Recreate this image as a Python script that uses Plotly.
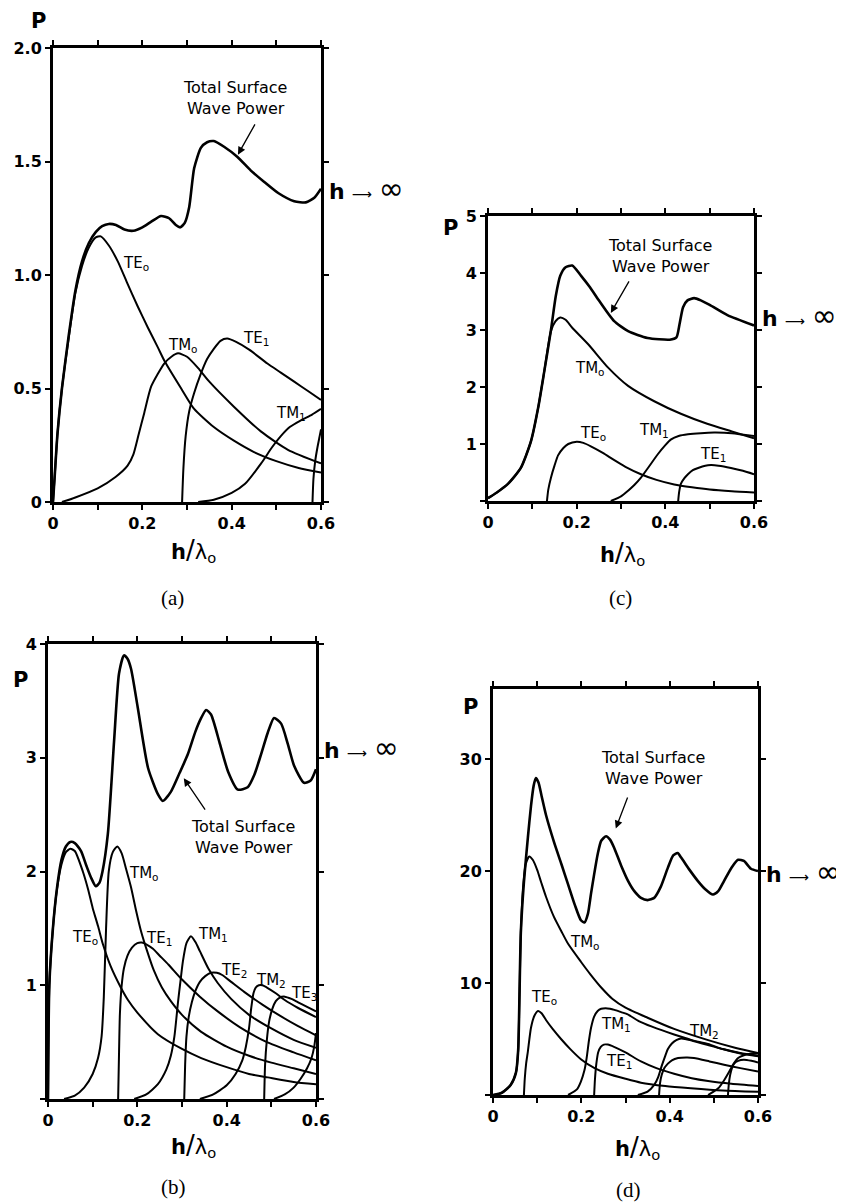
import plotly.graph_objects as go

# page is shown with an 8px body margin: build the figure 8px smaller and shift reference pixels by 8
OFF = 8
FW, FH = 844 - OFF, 1204 - OFF

# ---------------- Panel (a) ----------------
a_total_x = [0, 0.004, 0.01, 0.02, 0.035, 0.05, 0.065, 0.08, 0.096, 0.11, 0.125, 0.141, 0.16, 0.18, 0.2, 0.22, 0.242,
             0.26, 0.275, 0.285, 0.295, 0.305, 0.316, 0.331, 0.345, 0.36, 0.383, 0.413, 0.443, 0.473, 0.505, 0.54, 0.566,
             0.585, 0.6]
a_total_y = [0, 0.12, 0.3, 0.5, 0.73, 0.93, 1.06, 1.14, 1.19, 1.215, 1.225, 1.22, 1.2, 1.195, 1.21, 1.235, 1.26,
             1.25, 1.22, 1.21, 1.23, 1.3, 1.47, 1.56, 1.585, 1.59, 1.565, 1.52, 1.46, 1.41, 1.36, 1.325, 1.32,
             1.34, 1.38]
a_TE0_x = [0, 0.004, 0.01, 0.02, 0.035, 0.05, 0.065, 0.08, 0.095, 0.107, 0.125, 0.145, 0.165, 0.19, 0.212, 0.235,
           0.25, 0.287, 0.316, 0.36, 0.405, 0.45, 0.5, 0.55, 0.6]
a_TE0_y = [0, 0.12, 0.3, 0.5, 0.72, 0.92, 1.04, 1.12, 1.165, 1.17, 1.13, 1.06, 0.97, 0.86, 0.77, 0.68, 0.62,
           0.5, 0.41, 0.33, 0.27, 0.22, 0.18, 0.15, 0.13]
a_TM0_x = [0.02, 0.05, 0.1, 0.14, 0.167, 0.18, 0.192, 0.204, 0.22, 0.249, 0.265, 0.28, 0.3, 0.325, 0.35, 0.405,
           0.466, 0.526, 0.6]
a_TM0_y = [0, 0.02, 0.06, 0.11, 0.16, 0.21, 0.3, 0.39, 0.51, 0.61, 0.64, 0.655, 0.64, 0.59, 0.53, 0.42,
           0.31, 0.23, 0.17]
a_TE1_x = [0.289, 0.292, 0.297, 0.305, 0.316, 0.33, 0.345, 0.36, 0.375, 0.39, 0.41, 0.44, 0.48, 0.51, 0.54, 0.57, 0.6]
a_TE1_y = [0, 0.15, 0.29, 0.4, 0.48, 0.56, 0.63, 0.675, 0.71, 0.72, 0.705, 0.67, 0.61, 0.57, 0.53, 0.49, 0.45]
a_TM1_x = [0.325, 0.36, 0.4, 0.43, 0.466, 0.49, 0.51, 0.53, 0.555, 0.58, 0.6]
a_TM1_y = [0, 0.01, 0.04, 0.08, 0.17, 0.24, 0.29, 0.33, 0.36, 0.385, 0.41]
a_TE2_x = [0.581, 0.583, 0.587, 0.592, 0.597, 0.6]
a_TE2_y = [0, 0.1, 0.18, 0.24, 0.29, 0.32]

# ---------------- Panel (c) ----------------
c_total_x = [0, 0.02, 0.045, 0.074, 0.097, 0.113, 0.126, 0.142, 0.153, 0.163, 0.175, 0.19, 0.21, 0.23, 0.25,
             0.284, 0.316, 0.36, 0.41, 0.425, 0.432, 0.44, 0.45, 0.465, 0.48, 0.5, 0.54, 0.6]
c_total_y = [0.05, 0.15, 0.3, 0.58, 1.05, 1.63, 2.23, 3.0, 3.6, 3.95, 4.1, 4.13, 3.95, 3.75, 3.52,
             3.16, 2.98, 2.86, 2.83, 2.87, 3.1, 3.4, 3.52, 3.56, 3.52, 3.44, 3.26, 3.08]
c_TM0_x = [0, 0.02, 0.045, 0.074, 0.097, 0.113, 0.126, 0.142, 0.152, 0.163, 0.175, 0.19, 0.226, 0.271, 0.316,
           0.375, 0.435, 0.496, 0.55, 0.6]
c_TM0_y = [0.05, 0.15, 0.3, 0.58, 1.05, 1.63, 2.23, 2.98, 3.15, 3.22, 3.18, 3.04, 2.75, 2.34, 2.02,
           1.75, 1.53, 1.35, 1.22, 1.1]
c_TE0_x = [0.133, 0.136, 0.142, 0.15, 0.158, 0.17, 0.181, 0.2, 0.215, 0.232, 0.26, 0.284, 0.31, 0.345, 0.38,
           0.42, 0.46, 0.5, 0.55, 0.6]
c_TE0_y = [0, 0.2, 0.41, 0.62, 0.8, 0.93, 1.0, 1.04, 1.02, 0.96, 0.84, 0.72, 0.6, 0.47, 0.37,
           0.29, 0.24, 0.2, 0.17, 0.15]
c_TM1_x = [0.277, 0.3, 0.316, 0.33, 0.345, 0.36, 0.383, 0.4, 0.413, 0.43, 0.451, 0.48, 0.51, 0.55, 0.6]
c_TM1_y = [0, 0.08, 0.18, 0.28, 0.41, 0.57, 0.82, 0.98, 1.08, 1.14, 1.17, 1.19, 1.2, 1.19, 1.14]
c_TE1_x = [0.429, 0.431, 0.435, 0.443, 0.451, 0.462, 0.474, 0.49, 0.503, 0.52, 0.548, 0.575, 0.6]
c_TE1_y = [0, 0.15, 0.3, 0.4, 0.47, 0.54, 0.58, 0.62, 0.63, 0.62, 0.58, 0.53, 0.47]

# ---------------- Panel (b) ----------------
b_total_x = [0, 0.003, 0.011, 0.02, 0.03, 0.04, 0.05, 0.06, 0.074, 0.086, 0.096, 0.107, 0.115, 0.122, 0.134,
             0.148, 0.159, 0.17, 0.178, 0.186, 0.201, 0.224, 0.246, 0.257, 0.275, 0.295, 0.313, 0.33, 0.343,
             0.354, 0.365, 0.385, 0.403, 0.425, 0.447, 0.462, 0.477, 0.492, 0.506, 0.522, 0.537, 0.551, 0.573,
             0.588, 0.6]
b_total_y = [0, 1.0, 1.5, 1.85, 2.1, 2.22, 2.26, 2.25, 2.18, 2.05, 1.95, 1.87, 1.9, 2.0, 2.33,
             3.15, 3.74, 3.9, 3.87, 3.78, 3.44, 2.91, 2.68, 2.62, 2.7, 2.87, 3.03, 3.23, 3.35,
             3.42, 3.38, 3.12, 2.88, 2.72, 2.74, 2.85, 3.03, 3.22, 3.35, 3.3, 3.12, 2.93, 2.78,
             2.8, 2.9]
b_TE0_x = [0, 0.003, 0.011, 0.02, 0.03, 0.04, 0.05, 0.06, 0.078, 0.09, 0.1, 0.112, 0.123, 0.14, 0.163, 0.179,
           0.2, 0.246, 0.3, 0.343, 0.4, 0.45, 0.492, 0.55, 0.6]
b_TE0_y = [0, 1.0, 1.5, 1.84, 2.06, 2.17, 2.2, 2.18, 2.0, 1.84, 1.68, 1.52, 1.36, 1.17, 0.98, 0.87,
           0.76, 0.57, 0.44, 0.36, 0.28, 0.22, 0.19, 0.15, 0.13]
b_TM0_x = [0.036, 0.06, 0.081, 0.1, 0.112, 0.12, 0.125, 0.13, 0.136, 0.145, 0.155, 0.165, 0.175, 0.186, 0.197,
           0.208, 0.222, 0.237, 0.255, 0.275, 0.3, 0.343, 0.4, 0.45, 0.5, 0.55, 0.6]
b_TM0_y = [0, 0.03, 0.1, 0.22, 0.36, 0.55, 0.9, 1.5, 2.0, 2.17, 2.22, 2.16, 2.02, 1.86, 1.66,
           1.48, 1.3, 1.13, 0.98, 0.86, 0.74, 0.59, 0.46, 0.38, 0.32, 0.27, 0.22]
b_TE1_x = [0.157, 0.159, 0.161, 0.165, 0.17, 0.178, 0.188, 0.2, 0.21, 0.22, 0.235, 0.25, 0.27, 0.3, 0.34, 0.38,
           0.43, 0.49, 0.55, 0.6]
b_TE1_y = [0, 0.4, 0.75, 1.0, 1.15, 1.26, 1.33, 1.37, 1.375, 1.36, 1.32, 1.26, 1.18, 1.05, 0.9, 0.77,
           0.63, 0.5, 0.41, 0.34]
b_TM1_x = [0.193, 0.22, 0.246, 0.265, 0.275, 0.283, 0.291, 0.297, 0.302, 0.31, 0.32, 0.33, 0.34, 0.36, 0.38,
           0.41, 0.45, 0.5, 0.55, 0.6]
b_TM1_y = [0, 0.04, 0.13, 0.26, 0.38, 0.55, 0.85, 1.05, 1.21, 1.37, 1.43, 1.38, 1.3, 1.14, 1.02,
           0.88, 0.74, 0.62, 0.52, 0.45]
b_TE2_x = [0.305, 0.307, 0.31, 0.315, 0.322, 0.33, 0.34, 0.352, 0.365, 0.378, 0.39, 0.41, 0.44, 0.48, 0.52,
           0.56, 0.6]
b_TE2_y = [0, 0.3, 0.55, 0.72, 0.85, 0.95, 1.03, 1.08, 1.11, 1.11, 1.09, 1.03, 0.94, 0.83, 0.73,
           0.64, 0.56]
b_TM2_x = [0.34, 0.37, 0.4, 0.42, 0.435, 0.443, 0.45, 0.455, 0.46, 0.465, 0.472, 0.48, 0.49, 0.51, 0.53,
           0.56, 0.6]
b_TM2_y = [0, 0.04, 0.12, 0.22, 0.34, 0.46, 0.62, 0.8, 0.93, 0.98, 1.0, 1.0, 0.98, 0.93, 0.87,
           0.8, 0.72]
b_TE3_x = [0.484, 0.486, 0.49, 0.495, 0.502, 0.51, 0.518, 0.53, 0.545, 0.56, 0.58, 0.6]
b_TE3_y = [0, 0.3, 0.52, 0.68, 0.79, 0.86, 0.89, 0.9, 0.88, 0.85, 0.81, 0.77]
b_TM3_x = [0.506, 0.53, 0.55, 0.566, 0.58, 0.59, 0.596, 0.6]
b_TM3_y = [0, 0.04, 0.1, 0.18, 0.27, 0.36, 0.46, 0.58]

# ---------------- Panel (d) ----------------
d_total_x = [0, 0.02, 0.04, 0.052, 0.057, 0.06, 0.063, 0.07, 0.079, 0.086, 0.092, 0.097, 0.103, 0.11, 0.12,
             0.138, 0.155, 0.17, 0.185, 0.199, 0.207, 0.215, 0.222, 0.229, 0.237, 0.245, 0.256, 0.265, 0.274,
             0.29, 0.306, 0.32, 0.335, 0.35, 0.365, 0.38, 0.396, 0.408, 0.418, 0.426, 0.445, 0.464, 0.48, 0.498,
             0.51, 0.523, 0.54, 0.555, 0.568, 0.584, 0.6]
d_total_y = [0, 0.2, 0.9, 2.0, 4, 9, 14.5, 19, 23, 25.8, 27.6, 28.3, 27.9, 26.7, 25.0,
             22.6, 20.6, 18.8, 17, 15.6, 15.4, 16.2, 18, 19.7, 21.5, 22.7, 23.1, 22.8, 22.1,
             20.5, 19.1, 18.2, 17.6, 17.4, 17.6, 18.6, 20.3, 21.4, 21.6, 21.2, 20.1, 19.1, 18.4, 17.9,
             18.2, 19.1, 20.3, 21.0, 20.9, 20.2, 20.0]
d_TM0_x = [0, 0.02, 0.04, 0.052, 0.057, 0.06, 0.063, 0.068, 0.074, 0.082, 0.09, 0.1, 0.109, 0.12, 0.138, 0.155,
           0.17, 0.199, 0.22, 0.245, 0.27, 0.3, 0.35, 0.41, 0.487, 0.55, 0.6]
d_TM0_y = [0, 0.2, 0.9, 2.0, 4, 9, 14.5, 18.5, 20.6, 21.3, 21.0, 20.1, 19.0, 17.7, 15.9, 14.6,
           13.5, 11.9, 10.8, 9.6, 8.6, 7.8, 6.9, 5.9, 4.9, 4.2, 3.75]
d_TE0_x = [0.07, 0.072, 0.075, 0.079, 0.086, 0.094, 0.102, 0.11, 0.12, 0.135, 0.154, 0.175, 0.199, 0.23, 0.26,
           0.3, 0.335, 0.39, 0.448, 0.52, 0.6]
d_TE0_y = [0, 1.5, 2.8, 3.9, 6.0, 7.1, 7.5, 7.3, 6.7, 5.9, 5.0, 4.1, 3.2, 2.4, 1.9,
           1.45, 1.1, 0.8, 0.6, 0.4, 0.28]
d_TM1_x = [0.17, 0.19, 0.199, 0.207, 0.212, 0.217, 0.222, 0.229, 0.237, 0.245, 0.255, 0.265, 0.275, 0.29,
           0.305, 0.33, 0.36, 0.41, 0.45, 0.487, 0.52, 0.56, 0.6]
d_TM1_y = [0, 0.5, 1.2, 2.2, 3.3, 4.8, 6.0, 7.0, 7.5, 7.7, 7.75, 7.7, 7.6, 7.4,
           7.2, 6.6, 6.1, 5.4, 4.9, 4.55, 4.1, 3.7, 3.45]
d_TE1_x = [0.229, 0.231, 0.234, 0.238, 0.244, 0.251, 0.26, 0.274, 0.3, 0.335, 0.37, 0.41, 0.45, 0.487, 0.54, 0.6]
d_TE1_y = [0, 1.5, 2.8, 3.8, 4.3, 4.5, 4.5, 4.3, 3.8, 3.0, 2.4, 1.9, 1.5, 1.25, 1.0, 0.8]
d_TM2_x = [0.328, 0.35, 0.365, 0.374, 0.382, 0.39, 0.396, 0.405, 0.415, 0.426, 0.44, 0.46, 0.487, 0.52, 0.56, 0.6]
d_TM2_y = [0, 0.3, 0.9, 1.6, 2.6, 3.5, 4.1, 4.6, 4.9, 5.05, 4.95, 4.75, 4.45, 4.1, 3.75, 3.5]
d_TE2_x = [0.376, 0.378, 0.382, 0.388, 0.396, 0.405, 0.419, 0.44, 0.455, 0.49, 0.523, 0.56, 0.6]
d_TE2_y = [0, 1.0, 1.8, 2.4, 2.8, 3.1, 3.3, 3.35, 3.3, 3.0, 2.7, 2.4, 2.1]
d_TM3_x = [0.487, 0.51, 0.523, 0.535, 0.545, 0.555, 0.568, 0.585, 0.6]
d_TM3_y = [0, 0.6, 1.3, 2.1, 2.8, 3.3, 3.55, 3.7, 3.7]
d_TE3_x = [0.532, 0.534, 0.537, 0.541, 0.546, 0.555, 0.568, 0.585, 0.6]
d_TE3_y = [0, 1.0, 1.8, 2.4, 2.8, 3.05, 3.15, 3.05, 2.9]

# axis tick values / labels
x_tickvals = [0, 0.1, 0.2, 0.3, 0.4, 0.5, 0.6]
x_ticktext = ["0", "", "0.2", "", "0.4", "", "0.6"]
a_ytickvals = [0, 0.5, 1.0, 1.5, 2.0]
a_yticktext = ["0", "0.5", "1.0", "1.5", "2.0"]
c_ytickvals = [0, 1, 2, 3, 4, 5]
c_yticktext = ["", "1", "2", "3", "4", "5"]
b_ytickvals = [0, 1, 2, 3, 4]
b_yticktext = ["", "1", "2", "3", "4"]
d_ytickvals = [0, 10, 20, 30]
d_yticktext = ["", "10", "20", "30"]

# limit values (h -> infinity)
a_hinf, c_hinf, b_hinf, d_hinf = 1.38, 3.25, 3.09, 20.0

# ---------------------------------------------------------------
fig = go.Figure()

panels = {
    "a": ("x", "y", [(a_total_x, a_total_y), (a_TE0_x, a_TE0_y), (a_TM0_x, a_TM0_y), (a_TE1_x, a_TE1_y),
                     (a_TM1_x, a_TM1_y), (a_TE2_x, a_TE2_y)]),
    "c": ("x2", "y2", [(c_total_x, c_total_y), (c_TM0_x, c_TM0_y), (c_TE0_x, c_TE0_y), (c_TM1_x, c_TM1_y),
                       (c_TE1_x, c_TE1_y)]),
    "b": ("x3", "y3", [(b_total_x, b_total_y), (b_TE0_x, b_TE0_y), (b_TM0_x, b_TM0_y), (b_TE1_x, b_TE1_y),
                       (b_TM1_x, b_TM1_y), (b_TE2_x, b_TE2_y), (b_TM2_x, b_TM2_y), (b_TE3_x, b_TE3_y),
                       (b_TM3_x, b_TM3_y)]),
    "d": ("x4", "y4", [(d_total_x, d_total_y), (d_TM0_x, d_TM0_y), (d_TE0_x, d_TE0_y), (d_TM1_x, d_TM1_y),
                       (d_TE1_x, d_TE1_y), (d_TM2_x, d_TM2_y), (d_TE2_x, d_TE2_y), (d_TM3_x, d_TM3_y),
                       (d_TE3_x, d_TE3_y)]),
}

for key, (xa, ya, series) in panels.items():
    for i, (xs, ys) in enumerate(series):
        fig.add_trace(go.Scatter(
            x=xs, y=ys, xaxis=xa, yaxis=ya, mode="lines",
            line=dict(color="black", width=2.6 if i == 0 else 2.0, shape="spline", smoothing=0.6),
            showlegend=False, hoverinfo="skip"))


def px2x(px):
    return (px - OFF) / FW


def py2y(py):
    return 1 - (py - OFF) / FH


# reference pixel boxes of the four plot areas: (left, right, top, bottom)
boxes = {"a": (53, 321, 48, 502), "c": (488, 754, 216, 501),
         "b": (48, 316, 644, 1099), "d": (493, 758, 689, 1095)}


def dom(box):
    l, r, t, b = box
    return [px2x(l), px2x(r)], [py2y(b), py2y(t)]


tickfont = dict(family="DejaVu Sans", size=16, color="black", weight="bold")
common = dict(showline=True, linecolor="black", linewidth=3, mirror="ticks", ticks="outside",
              ticklen=5, tickwidth=2, tickcolor="black", showgrid=False, zeroline=False,
              tickfont=tickfont, fixedrange=True, automargin=False)

yinfo = {"a": ([0, 2.0], a_ytickvals, a_yticktext), "c": ([0, 5], c_ytickvals, c_yticktext),
         "b": ([0, 4], b_ytickvals, b_yticktext), "d": ([0, 36.25], d_ytickvals, d_yticktext)}
names = {"a": ("xaxis", "yaxis", "y", "x"), "c": ("xaxis2", "yaxis2", "y2", "x2"),
         "b": ("xaxis3", "yaxis3", "y3", "x3"), "d": ("xaxis4", "yaxis4", "y4", "x4")}

lay = {}
for key, (xn, yn, yref, xref) in names.items():
    xd, yd = dom(boxes[key])
    yr, ytv, ytt = yinfo[key]
    lay[xn] = dict(domain=xd, anchor=yref, range=[0, 0.6], tickvals=x_tickvals, ticktext=x_ticktext, **common)
    lay[yn] = dict(domain=yd, anchor=xref, range=yr, tickvals=ytv, ticktext=ytt, **common)

fig.update_layout(width=FW, height=FH, margin=dict(l=0, r=0, t=0, b=0, pad=0, autoexpand=False),
                  paper_bgcolor="white", plot_bgcolor="white", **lay)

ann = []
lab_font = dict(family="DejaVu Sans", size=15, color="black")
tot_font = dict(family="DejaVu Sans", size=16, color="black")
C = dict(xanchor="center", yanchor="middle", showarrow=False)

# mode labels (data coordinates)
mode_labels = [
    ("x", "y", 0.186, 1.05, "TE<sub>o</sub>"), ("x", "y", 0.29, 0.69, "TM<sub>o</sub>"),
    ("x", "y", 0.455, 0.72, "TE<sub>1</sub>"), ("x", "y", 0.533, 0.39, "TM<sub>1</sub>"),
    ("x2", "y2", 0.23, 2.32, "TM<sub>o</sub>"), ("x2", "y2", 0.237, 1.18, "TE<sub>o</sub>"),
    ("x2", "y2", 0.374, 1.23, "TM<sub>1</sub>"), ("x2", "y2", 0.508, 0.82, "TE<sub>1</sub>"),
    ("x3", "y3", 0.215, 1.98, "TM<sub>o</sub>"), ("x3", "y3", 0.083, 1.42, "TE<sub>o</sub>"),
    ("x3", "y3", 0.248, 1.41, "TE<sub>1</sub>"), ("x3", "y3", 0.369, 1.45, "TM<sub>1</sub>"),
    ("x3", "y3", 0.416, 1.13, "TE<sub>2</sub>"), ("x3", "y3", 0.50, 1.04, "TM<sub>2</sub>"),
    ("x3", "y3", 0.573, 0.93, "TE<sub>3</sub>"),
    ("x4", "y4", 0.208, 13.6, "TM<sub>o</sub>"), ("x4", "y4", 0.115, 8.7, "TE<sub>o</sub>"),
    ("x4", "y4", 0.278, 6.3, "TM<sub>1</sub>"), ("x4", "y4", 0.285, 3.0, "TE<sub>1</sub>"),
    ("x4", "y4", 0.478, 5.7, "TM<sub>2</sub>"),
]
for xr, yr, x, y, t in mode_labels:
    ann.append(dict(xref=xr, yref=yr, x=x, y=y, text=t, font=lab_font, **C))

# Total surface wave power labels + arrows
totals = [("x", "y", 0.408, 1.78, 0.414, 1.53, 0.454, 1.67),
          ("x2", "y2", 0.388, 4.3, 0.277, 3.3, 0.32, 3.88),
          ("x3", "y3", 0.436, 2.3, 0.304, 2.82, 0.354, 2.53),
          ("x4", "y4", 0.362, 29.2, 0.278, 23.8, 0.306, 26.7)]
for xr, yr, tx, ty, hx, hy, sx, sy in totals:
    ann.append(dict(xref=xr, yref=yr, x=tx, y=ty, text="Total Surface<br>Wave Power",
                    font=tot_font, align="center", **C))
    ann.append(dict(xref=xr, yref=yr, x=hx, y=hy, ax=sx, ay=sy, axref=xr, ayref=yr, text="",
                    showarrow=True, arrowhead=2, arrowsize=1.2, arrowwidth=1.3, arrowcolor="black"))

# h -> infinity
for key, yr, val in [("a", "y", a_hinf), ("c", "y2", c_hinf), ("b", "y3", b_hinf), ("d", "y4", d_hinf)]:
    right = boxes[key][1]
    ann.append(dict(xref="paper", yref=yr, x=px2x(right + 6), y=val, xanchor="left", yanchor="middle",
                    text="<b>h</b> <span style='font-size:14px'>⟶</span> <span style='font-size:30px'>∞</span>",
                    showarrow=False, font=dict(family="DejaVu Sans", size=22, color="black")))

# P labels, x titles, captions (reference pixel positions -> paper)
for px, py in [(38, 21), (450, 228), (20, 680), (470, 707)]:
    ann.append(dict(xref="paper", yref="paper", x=px2x(px), y=py2y(py), text="<b>P</b>",
                    font=dict(family="DejaVu Sans", size=21, color="black"), **C))
for px, py in [(193, 550), (622, 553), (193, 1145), (637, 1147)]:
    ann.append(dict(xref="paper", yref="paper", x=px2x(px), y=py2y(py),
                    text="<b>h</b><span style='font-size:26px'>/</span>λ<sub>o</sub>",
                    font=dict(family="DejaVu Sans", size=21, color="black"), **C))
for px, py, t in [(172, 598, "(a)"), (620, 598, "(c)"), (173, 1187, "(b)"), (628, 1190, "(d)")]:
    ann.append(dict(xref="paper", yref="paper", x=px2x(px), y=py2y(py), text=t,
                    font=dict(family="Liberation Serif", size=21, color="black"), **C))

fig.update_layout(annotations=ann)
fig.write_html("out.html")
